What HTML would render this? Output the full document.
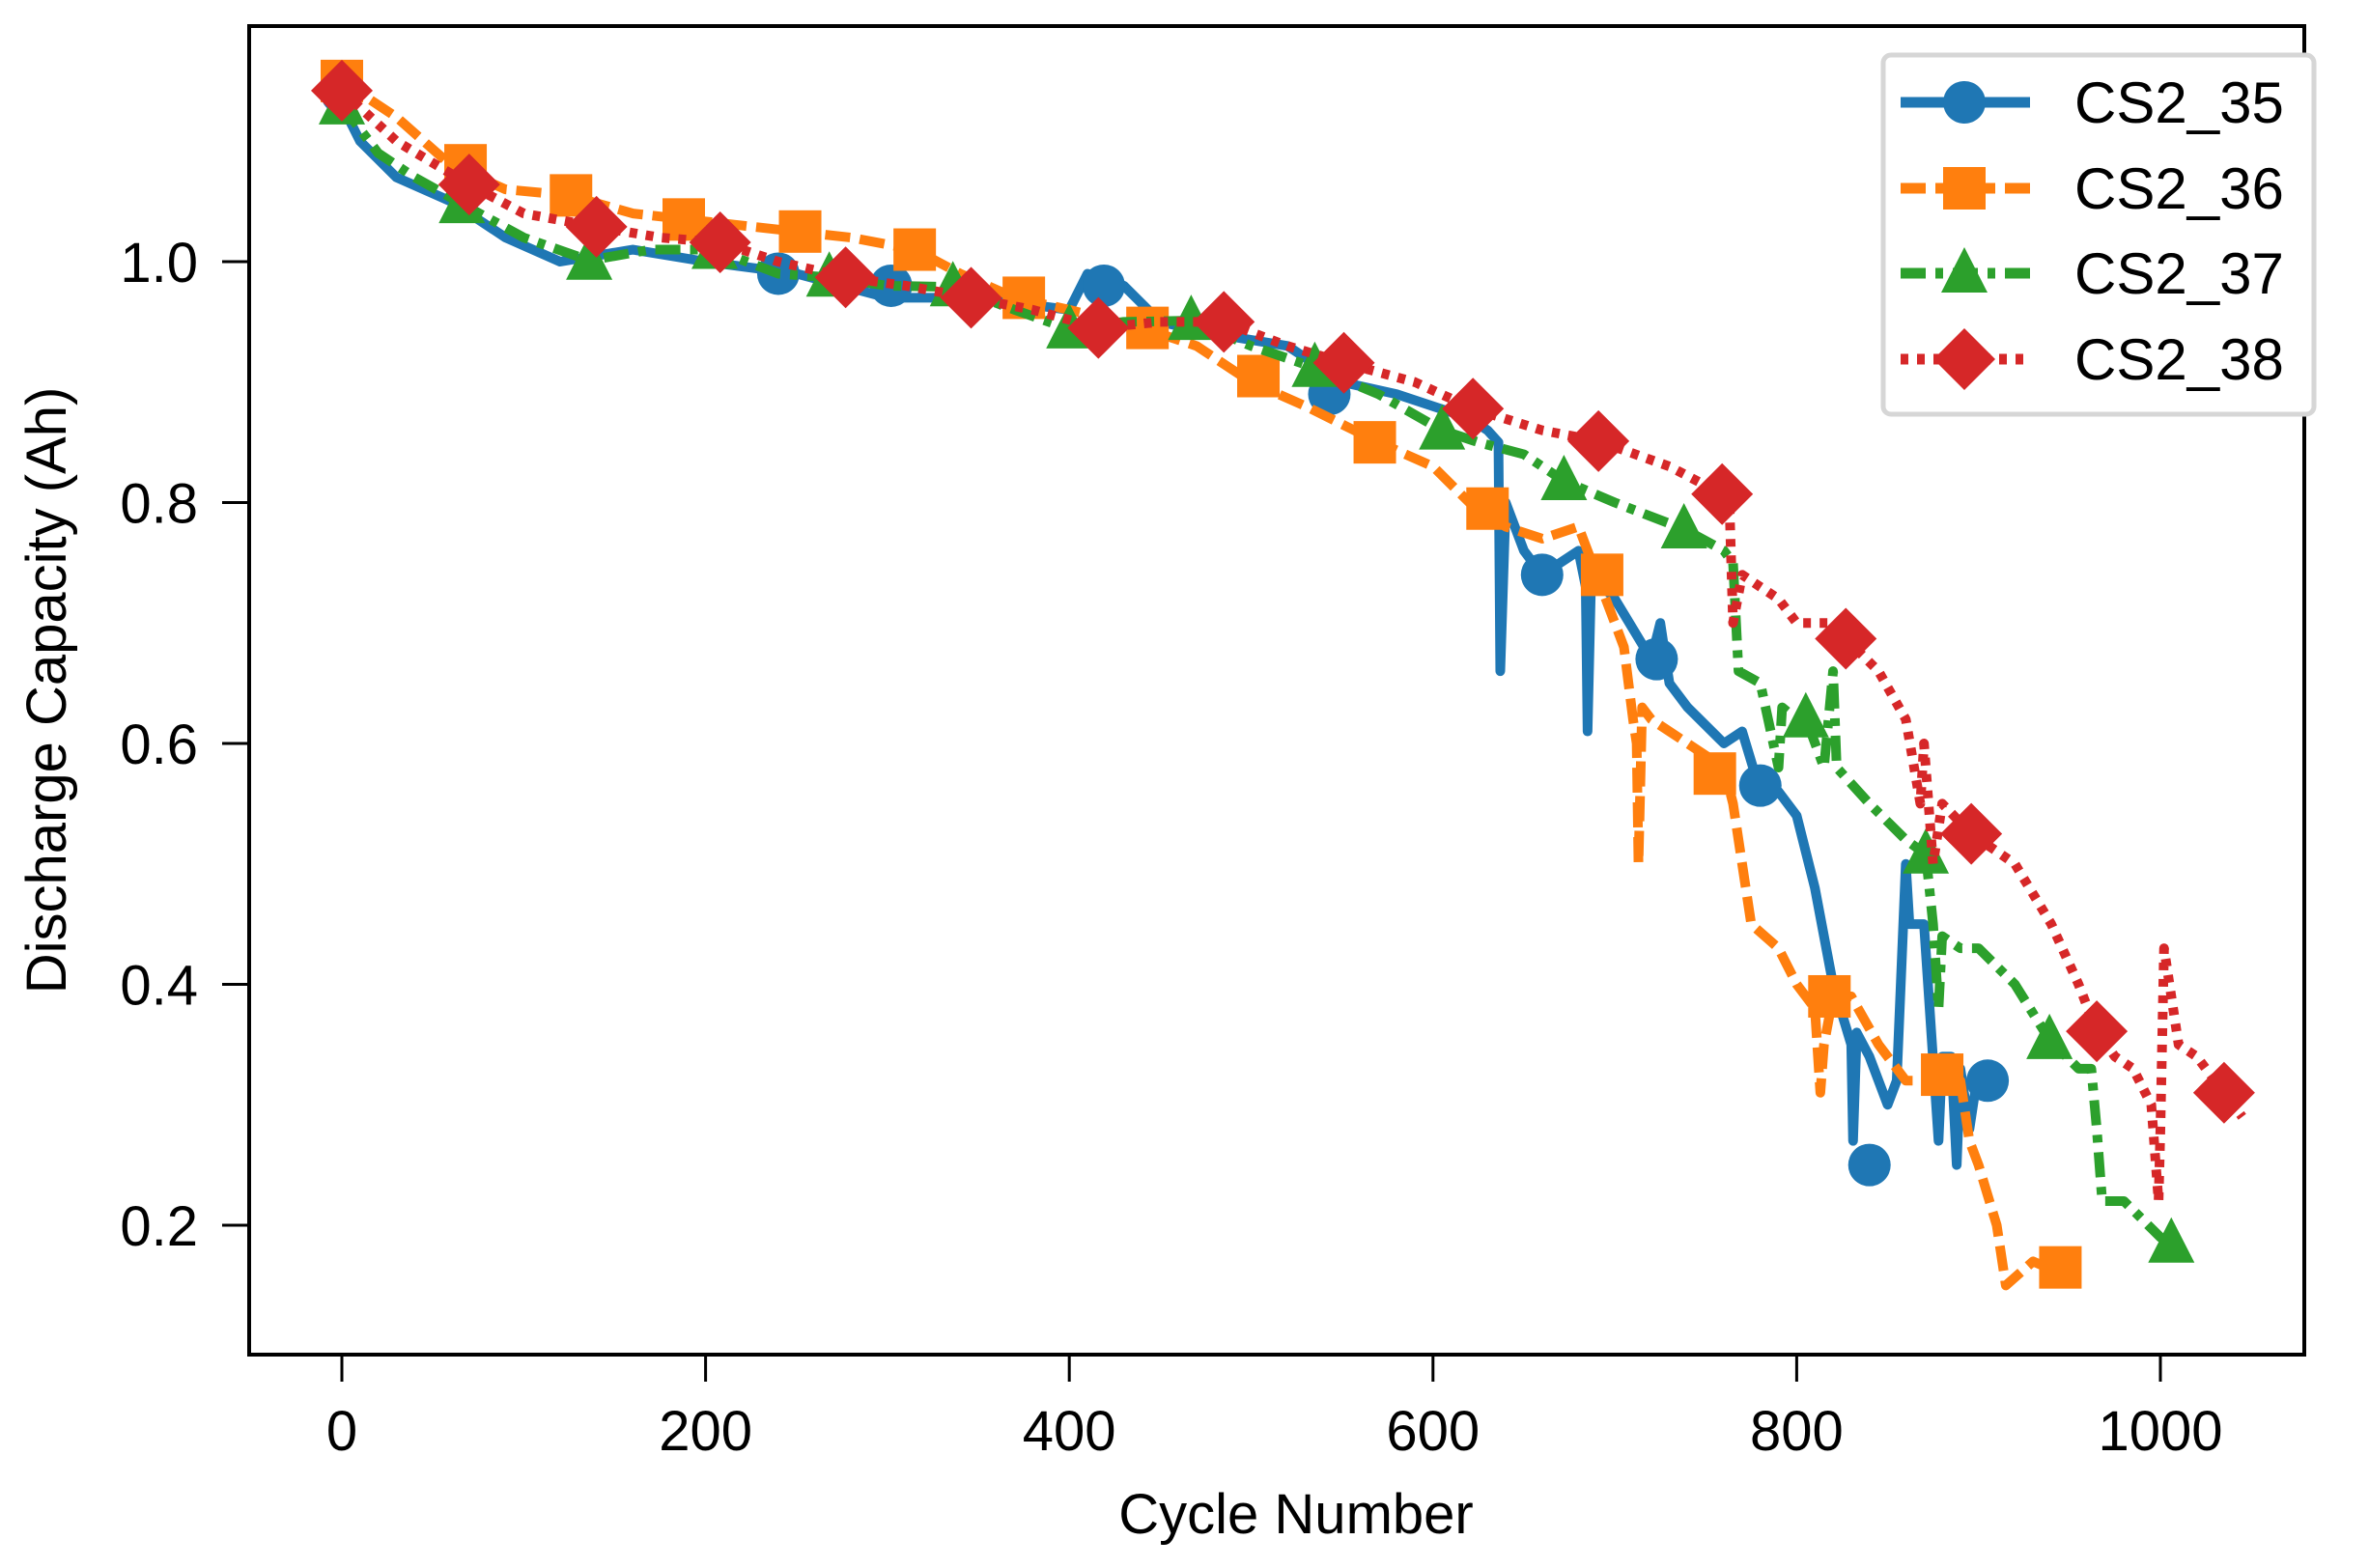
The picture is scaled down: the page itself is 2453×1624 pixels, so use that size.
<!DOCTYPE html>
<html><head><meta charset="utf-8"><style>
html,body{margin:0;padding:0;background:#fff;}
svg{display:block;font-family:"Liberation Sans",Arial,sans-serif;}
</style></head><body>
<svg id="chart" width="2453" height="1624" viewBox="0 0 2453 1624" xmlns="http://www.w3.org/2000/svg">
<rect x="0" y="0" width="2453" height="1624" fill="#fff"/>
<g id="plot"></g>
<rect x="258" y="27" width="2128" height="1376" fill="none" stroke="#000" stroke-width="4"/>
<g id="axes"></g>
<text x="1342" y="1588" font-size="58" text-anchor="middle">Cycle Number</text>
<text transform="translate(68,715) rotate(-90)" font-size="58" text-anchor="middle">Discharge Capacity (Ah)</text>
<g id="legend"></g>
</svg>
<script>
const xTicks=[0,200,400,600,800,1000];
const yTicks=[0.2,0.4,0.6,0.8,1.0];
const names=["CS2_35","CS2_36","CS2_37","CS2_38"];
const colors=["#1f77b4","#ff7f0e","#2ca02c","#d62728"];
const s35x=[0,10,30,60,90,120,160,200,250,300,350,400,410,430,450,480,520,550,580,600,620,630,636,637,640,650,660,680,684,685,687,700,720,725,730,740,760,770,780,790,800,810,820,830,831,833,840,850,855,860,862,870,878,880,885,888,890,895,900,910];
const s35y=[1.13,1.10,1.07,1.05,1.02,1.00,1.01,1.00,0.99,0.97,0.97,0.96,0.99,0.98,0.95,0.94,0.93,0.90,0.89,0.88,0.87,0.86,0.85,0.66,0.80,0.76,0.74,0.76,0.73,0.61,0.74,0.72,0.67,0.70,0.65,0.63,0.60,0.61,0.56,0.56,0.54,0.48,0.40,0.35,0.27,0.36,0.34,0.30,0.32,0.50,0.45,0.45,0.27,0.34,0.34,0.25,0.33,0.28,0.33,0.31];
const s36x=[0,30,60,90,125,160,190,220,250,280,315,340,370,400,440,470,500,530,570,600,620,640,660,680,690,700,705,710,712,713,715,720,740,760,765,770,775,790,800,810,813,815,820,830,845,860,880,890,895,900,910,915,930,945];
const s36y=[1.15,1.12,1.08,1.06,1.055,1.04,1.035,1.03,1.025,1.02,1.01,0.99,0.97,0.96,0.945,0.93,0.90,0.88,0.85,0.83,0.80,0.78,0.77,0.78,0.74,0.70,0.68,0.62,0.60,0.50,0.63,0.62,0.60,0.58,0.55,0.50,0.45,0.43,0.40,0.38,0.31,0.35,0.39,0.39,0.35,0.32,0.32,0.32,0.27,0.25,0.20,0.15,0.17,0.16];
const s37x=[0,20,40,66,100,136,170,205,240,268,300,336,370,400,430,467,500,535,570,605,625,650,672,700,738,760,765,768,780,790,792,800,805,815,820,822,840,860,871,875,878,880,890,900,920,939,955,962,965,968,980,1000,1010];
const s37y=[1.13,1.09,1.07,1.048,1.02,1.001,1.01,1.01,0.99,0.987,0.98,0.979,0.96,0.944,0.95,0.951,0.93,0.912,0.89,0.86,0.85,0.84,0.818,0.80,0.778,0.76,0.75,0.66,0.65,0.58,0.63,0.62,0.621,0.58,0.66,0.58,0.55,0.52,0.508,0.45,0.38,0.44,0.43,0.43,0.40,0.354,0.33,0.33,0.28,0.22,0.22,0.19,0.18];
const s38x=[0,30,70,100,140,175,208,240,277,310,346,380,416,450,485,520,551,590,622,660,691,730,759,763,765,770,790,800,820,827,845,860,868,870,875,880,896,920,940,955,965,975,985,995,999,1000,1002,1010,1020,1035,1045];
const s38y=[1.142,1.10,1.064,1.04,1.029,1.02,1.016,1.00,0.987,0.98,0.97,0.96,0.945,0.95,0.95,0.93,0.916,0.90,0.878,0.86,0.851,0.83,0.807,0.80,0.70,0.74,0.72,0.70,0.70,0.687,0.66,0.62,0.55,0.60,0.50,0.55,0.525,0.50,0.45,0.40,0.361,0.34,0.33,0.30,0.22,0.28,0.43,0.35,0.34,0.31,0.29];
const m35x=[0,240,302,419,543,660,723,780,840,905];
const m35y=[1.14,0.99,0.98,0.98,0.89,0.74,0.67,0.565,0.25,0.32];
const m36x=[0,68,126,188,252,315,375,443,504,568,630,693,755,818,880,945];
const m36y=[1.15,1.08,1.055,1.035,1.025,1.01,0.97,0.945,0.905,0.85,0.795,0.74,0.575,0.39,0.325,0.165];
const m37x=[0,66,136,205,268,336,400,467,535,605,672,738,805,871,939,1006];
const m37y=[1.13,1.048,1.001,1.01,0.987,0.979,0.944,0.951,0.912,0.86,0.818,0.778,0.621,0.508,0.354,0.185];
const m38x=[0,70,140,208,277,346,416,485,551,622,691,759,827,896,965,1035];
const m38y=[1.142,1.064,1.029,1.016,0.987,0.97,0.945,0.95,0.916,0.878,0.851,0.807,0.687,0.525,0.361,0.31];

const NS="http://www.w3.org/2000/svg";
function X(v){return 354+v*1.883;}
function Y(v){return 271+(1.0-v)*1247.5;}
const dashes=["","26,10","26,10,8,10","8,9"];
const lx=[s35x,s36x,s37x,s38x], ly=[s35y,s36y,s37y,s38y];
const mx=[m35x,m36x,m37x,m38x], my=[m35y,m36y,m37y,m38y];
const plot=document.getElementById('plot');
function marker(k,cx,cy,parent){
  let el;
  const c=colors[k];
  if(k===0){el=document.createElementNS(NS,'circle');el.setAttribute('cx',cx);el.setAttribute('cy',cy);el.setAttribute('r',22);}
  else if(k===1){el=document.createElementNS(NS,'rect');el.setAttribute('x',cx-22);el.setAttribute('y',cy-22);el.setAttribute('width',44);el.setAttribute('height',44);}
  else if(k===2){el=document.createElementNS(NS,'polygon');el.setAttribute('points',`${cx},${cy-27} ${cx+24},${cy+20} ${cx-24},${cy+20}`);}
  else {el=document.createElementNS(NS,'polygon');el.setAttribute('points',`${cx},${cy-32} ${cx+32},${cy} ${cx},${cy+32} ${cx-32},${cy}`);}
  el.setAttribute('fill',c);
  
  
  parent.appendChild(el);
}
for(let k=0;k<4;k++){
  const g=document.createElementNS(NS,'g');
  
  
  const p=document.createElementNS(NS,'polyline');
  p.setAttribute('points',lx[k].map((v,i)=>X(v)+','+Y(ly[k][i])).join(' '));
  p.setAttribute('fill','none');p.setAttribute('stroke',colors[k]);p.setAttribute('stroke-width',10);
  p.setAttribute('stroke-linejoin','round');
  if(dashes[k])p.setAttribute('stroke-dasharray',dashes[k]);
  
  
  g.appendChild(p);
  for(let i=0;i<mx[k].length;i++)marker(k,X(mx[k][i]),Y(my[k][i]),g);
  plot.appendChild(g);
}
const axes=document.getElementById('axes');
xTicks.forEach(t=>{
  const l=document.createElementNS(NS,'line');
  l.setAttribute('x1',X(t));l.setAttribute('x2',X(t));l.setAttribute('y1',1403);l.setAttribute('y2',1431);
  l.setAttribute('stroke','#000');l.setAttribute('stroke-width',3);
  
  
  axes.appendChild(l);
  const tx=document.createElementNS(NS,'text');
  tx.setAttribute('x',X(t));tx.setAttribute('y',1502);tx.setAttribute('font-size',58);tx.setAttribute('text-anchor','middle');
  tx.textContent=t;
  
  
  axes.appendChild(tx);
});
yTicks.forEach(t=>{
  const l=document.createElementNS(NS,'line');
  l.setAttribute('x1',230);l.setAttribute('x2',258);l.setAttribute('y1',Y(t));l.setAttribute('y2',Y(t));
  l.setAttribute('stroke','#000');l.setAttribute('stroke-width',3);
  
  
  axes.appendChild(l);
  const tx=document.createElementNS(NS,'text');
  tx.setAttribute('x',205);tx.setAttribute('y',Y(t)+21);tx.setAttribute('font-size',58);tx.setAttribute('text-anchor','end');
  tx.textContent=t.toFixed(1);
  
  
  axes.appendChild(tx);
});
const leg=document.getElementById('legend');
const box=document.createElementNS(NS,'rect');
box.setAttribute('x',1950);box.setAttribute('y',57);box.setAttribute('width',446);box.setAttribute('height',372);box.setAttribute('rx',8);
box.setAttribute('fill','#fff');box.setAttribute('stroke','#d6d6d6');box.setAttribute('stroke-width',5);


leg.appendChild(box);
const ly0=[106,195,283,372];
for(let k=0;k<4;k++){
  const g=document.createElementNS(NS,'g');
  
  
  const l=document.createElementNS(NS,'line');
  l.setAttribute('x1',1968);l.setAttribute('x2',2102);l.setAttribute('y1',ly0[k]);l.setAttribute('y2',ly0[k]);
  l.setAttribute('stroke',colors[k]);l.setAttribute('stroke-width',11);
  if(dashes[k])l.setAttribute('stroke-dasharray',dashes[k]);
  
  
  g.appendChild(l);
  marker(k,2034,ly0[k],g);
  const tx=document.createElementNS(NS,'text');
  tx.setAttribute('x',2148);tx.setAttribute('y',ly0[k]+21);tx.setAttribute('font-size',60);
  tx.textContent=names[k];
  
  
  g.appendChild(tx);
  leg.appendChild(g);
}
</script>
</body></html>
